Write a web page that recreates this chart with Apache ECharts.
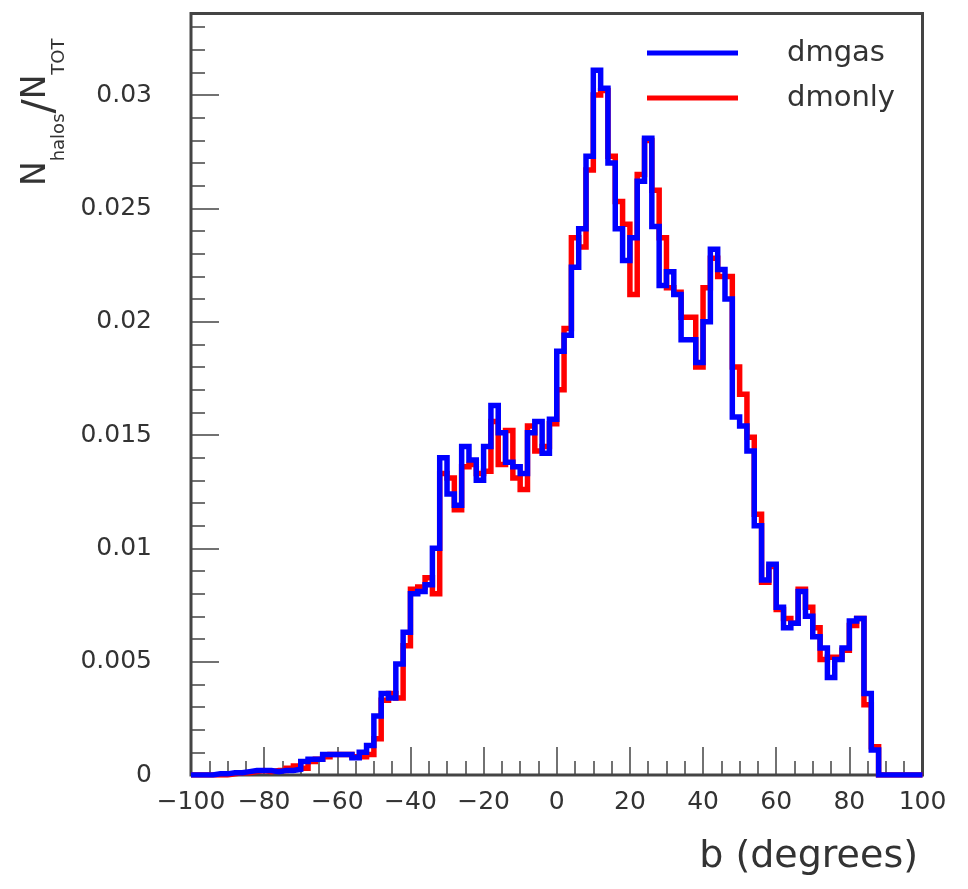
<!DOCTYPE html>
<html>
<head>
<meta charset="utf-8">
<script src="https://cdn.jsdelivr.net/npm/echarts@6/dist/echarts.min.js"></script>
<style>
  html, body { margin: 0; padding: 0; background: #ffffff; }
  #chart { width: 968px; height: 889px; }
</style>
</head>
<body>
<div id="chart"></div>
<script>
// Histogram of galactic latitude b: 100 bins of 2 degrees from -100 to 100
const seriesNames = ['dmgas', 'dmonly'];
const binStart = -100;
const binWidth = 2;

// Normalised counts per bin (N_halos / N_TOT), first bin starts at b = -100
const dmgas = [
  0, 0, 0, 0.00005, 0.00005, 0.0001, 0.0001, 0.00015, 0.0002, 0.0002,
  0.0002, 0.00015, 0.0002, 0.0002, 0.00025, 0.0006, 0.0007, 0.0007, 0.0009, 0.0009,
  0.0009, 0.0009, 0.00076, 0.0010, 0.0013, 0.0026, 0.0036, 0.0034, 0.0049, 0.0063,
  0.0080, 0.0081, 0.0084, 0.0100, 0.0140, 0.0124, 0.0119, 0.0145, 0.0139, 0.0130,
  0.0145, 0.0163, 0.0151, 0.0138, 0.0136, 0.0133, 0.0151, 0.0156, 0.0142, 0.0157,
  0.0187, 0.0194, 0.0224, 0.0241, 0.0273, 0.0311, 0.0303, 0.0270, 0.0241, 0.0227,
  0.0237, 0.0262, 0.0281, 0.0242, 0.0216, 0.0222, 0.0212, 0.0192, 0.0192, 0.0182,
  0.0200, 0.0232, 0.0223, 0.0210, 0.0158, 0.0154, 0.0143, 0.0110, 0.0086, 0.0093,
  0.0074, 0.0065, 0.0067, 0.0081, 0.0070, 0.0061, 0.0056, 0.0043, 0.0051, 0.0056,
  0.0068, 0.0069, 0.0036, 0.0011, 0, 0, 0, 0, 0, 0
];

const dmonly = [
  0, 0, 0, 0, 0, 0.00005, 0.0001, 0.0001, 0.00015, 0.0002,
  0.00015, 0.0002, 0.0002, 0.0003, 0.0004, 0.0003, 0.0006, 0.0007, 0.0008, 0.0009,
  0.0009, 0.0009, 0.0008, 0.0008, 0.0009, 0.0016, 0.0033, 0.0036, 0.0034, 0.0057,
  0.0082, 0.0083, 0.0087, 0.0080, 0.0133, 0.0131, 0.0117, 0.0136, 0.0137, 0.0133,
  0.0134, 0.0156, 0.0137, 0.0152, 0.0131, 0.0126, 0.0154, 0.0143, 0.0145, 0.0155,
  0.0170, 0.0197, 0.0237, 0.0233, 0.0267, 0.0300, 0.0302, 0.0273, 0.0253, 0.0243,
  0.0212, 0.0265, 0.0280, 0.0258, 0.0237, 0.0215, 0.0213, 0.0202, 0.0202, 0.0180,
  0.0215, 0.0228, 0.0220, 0.0220, 0.0180, 0.0168, 0.0149, 0.0115, 0.0085, 0.0092,
  0.0073, 0.0069, 0.0067, 0.0082, 0.0074, 0.0065, 0.0051, 0.0052, 0.0052, 0.0055,
  0.0066, 0.0069, 0.0031, 0.00125, 0, 0, 0, 0, 0, 0
];

const seriesColors = { dmgas: '#0000ff', dmonly: '#ff0000' };

const FONT = '"DejaVu Sans", "Liberation Sans", sans-serif';
const INK = '#333333';

// Step outline: one point per bin's left edge, plus the closing right edge
function toSteps(vals) {
  const pts = vals.map((v, i) => [binStart + i * binWidth, v]);
  pts.push([binStart + vals.length * binWidth, vals[vals.length - 1]]);
  return pts;
}

function histSeries(name, vals, z) {
  return {
    name: name,
    type: 'line',
    step: 'end',
    data: toSteps(vals),
    symbol: 'none',
    z: z,
    lineStyle: { color: seriesColors[name], width: 5.5, join: 'miter', cap: 'butt' },
    itemStyle: { color: seriesColors[name] }
  };
}

const tickStyle = { color: '#444444', width: 1.5 };

const chart = echarts.init(document.getElementById('chart'), null, { renderer: 'canvas' });

chart.setOption({
  animation: false,
  backgroundColor: '#ffffff',
  grid: {
    left: 191, right: 45.5, top: 13.5, bottom: 114,
    show: true, borderColor: '#444444', borderWidth: 3, backgroundColor: 'transparent'
  },
  legend: {
    data: seriesNames,
    orient: 'vertical',
    left: 642,
    top: 33,
    icon: 'rect',
    itemWidth: 91,
    itemHeight: 5,
    itemGap: 15,
    selectedMode: false,
    textStyle: { fontSize: 29, fontFamily: FONT, color: INK, lineHeight: 30, padding: [0, 0, 0, 44] }
  },
  xAxis: {
    type: 'value',
    min: -100,
    max: 100,
    interval: 20,
    axisLine: { show: true, onZero: false, lineStyle: { color: '#444444', width: 2 } },
    axisTick: { show: true, inside: true, length: 28, lineStyle: tickStyle },
    minorTick: { show: true, splitNumber: 4, length: 14, lineStyle: tickStyle },
    splitLine: { show: false },
    axisLabel: {
      margin: 15,
      fontSize: 25,
      fontFamily: FONT,
      color: INK,
      formatter: v => (v < 0 ? '\u2212' + (-v) : String(v))
    }
  },
  yAxis: [
    {
      type: 'value',
      min: 0,
      max: 0.0336,
      interval: 0.005,
      position: 'left',
      axisLine: { show: true, onZero: false, lineStyle: { color: '#444444', width: 2 } },
      axisTick: { show: true, inside: true, length: 28, lineStyle: tickStyle },
      splitLine: { show: false },
      axisLabel: {
        margin: 39,
        fontSize: 25,
        fontFamily: FONT,
        color: INK,
        showMaxLabel: false,
        formatter: v => String(+v.toFixed(4))
      }
    },
    {
      type: 'value',
      min: 0,
      max: 0.0336,
      interval: 0.001,
      position: 'left',
      axisLine: { show: false, onZero: false },
      axisTick: { show: true, inside: true, length: 14, lineStyle: tickStyle },
      splitLine: { show: false },
      axisLabel: { show: false }
    }
  ],
  graphic: [
    {
      type: 'text',
      x: 20,
      y: 186,
      rotation: Math.PI / 2,
      style: {
        text: '{n|N}{s|halos}{sl|/}{n|N}{s|TOT}',
        fill: INK,
        align: 'left',
        verticalAlign: 'top',
        rich: {
          n: { fontSize: 33, lineHeight: 48, verticalAlign: 'top', fontFamily: FONT, fill: INK },
          sl: { fontSize: 42, lineHeight: 48, verticalAlign: 'top', fontFamily: FONT, fill: INK },
          s: { fontSize: 18, lineHeight: 18, verticalAlign: 'bottom', fontFamily: FONT, fill: INK }
        }
      }
    },
    {
      type: 'text',
      right: 50,
      top: 838,
      style: { text: 'b (degrees)', fontSize: 38, fontFamily: FONT, fill: INK }
    }
  ],
  series: [
    histSeries('dmonly', dmonly, 2),
    histSeries('dmgas', dmgas, 3)
  ]
});
</script>
</body>
</html>
